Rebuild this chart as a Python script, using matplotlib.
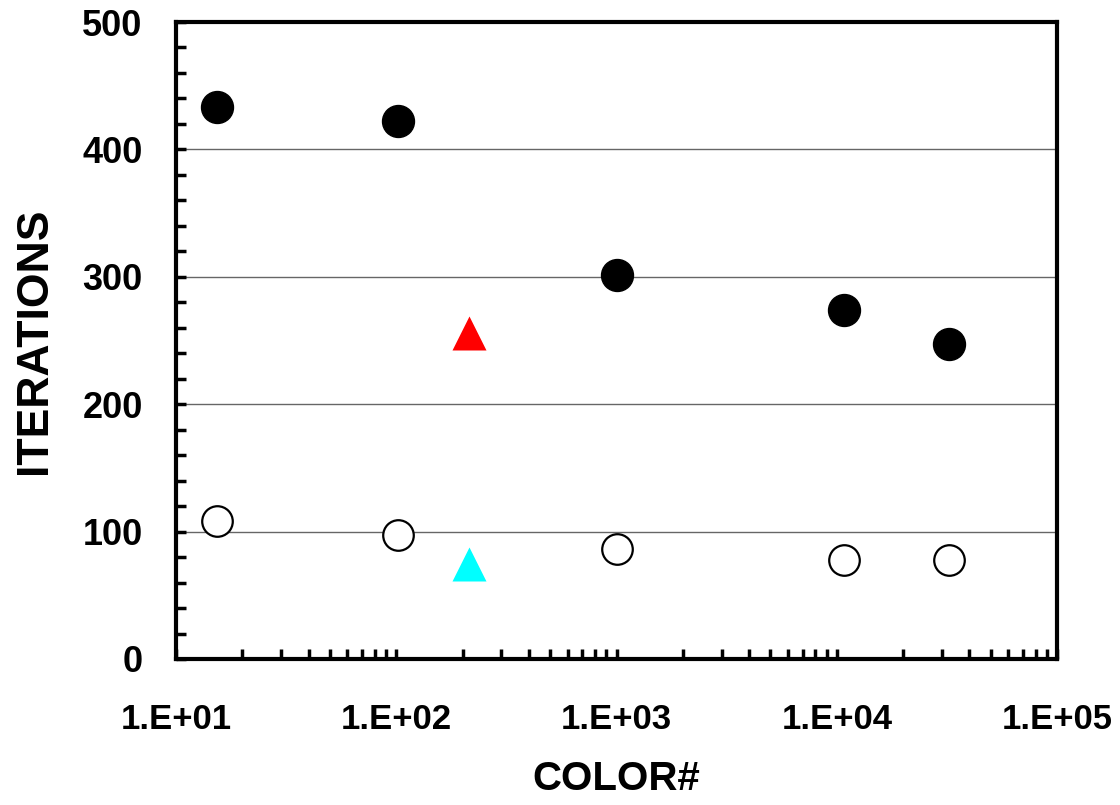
import matplotlib
matplotlib.use("Agg")
import matplotlib.pyplot as plt
from matplotlib.ticker import FixedLocator, LogLocator, NullFormatter, FuncFormatter

plt.rcParams['font.family'] = ['Liberation Sans', 'DejaVu Sans']
plt.rcParams['font.weight'] = 'bold'

# values
colors_x = [15.4, 102, 1000, 10800, 32200]
iter_filled = [433, 422, 301.5, 274, 247]
iter_open = [108, 97.5, 86.5, 77.5, 77.5]

tri_x = [215]
tri_red = [255.5]
tri_cyan = [74.3]

y_ticks = [0, 100, 200, 300, 400, 500]
x_ticks = [1e1, 1e2, 1e3, 1e4, 1e5]
x_ticklabels = ['1.E+01', '1.E+02', '1.E+03', '1.E+04', '1.E+05']

fig = plt.figure(figsize=(11.2, 8.05), dpi=100)
ax = fig.add_axes([176/1120, 1-659/805, 881/1120, 637/805])

ax.set_xscale('log')
ax.set_xlim(1e1, 1e5)
ax.set_ylim(0, 500)

for y in y_ticks[1:-1]:
    ax.axhline(y, color='#666666', lw=1.0, zorder=1)

ax.plot(colors_x, iter_filled, 'o', color='black', ms=23, zorder=3, clip_on=False)
ax.plot(colors_x, iter_open, 'o', mfc='white', mec='black', mew=1.6, ms=22, zorder=3)
ax.plot(tri_x, tri_red, '^', color='red', ms=25, mec='none', zorder=3)
ax.plot(tri_x, tri_cyan, '^', color='cyan', ms=25, mec='none', zorder=3)

ax.set_yticks(y_ticks)
ax.yaxis.set_minor_locator(FixedLocator([v for v in range(0, 501, 20) if v % 100]))
ax.xaxis.set_major_locator(FixedLocator(x_ticks))
ax.xaxis.set_major_formatter(FuncFormatter(lambda v, p: x_ticklabels[x_ticks.index(v)] if v in x_ticks else ''))
ax.xaxis.set_minor_locator(LogLocator(base=10, subs=range(2, 10)))
ax.xaxis.set_minor_formatter(NullFormatter())

ax.tick_params(which='both', direction='in', length=7, width=2.5, top=False, right=False)
ax.tick_params(axis='x', which='major', labelsize=25, pad=32)
ax.tick_params(axis='y', which='major', labelsize=26, pad=24)

for s in ax.spines.values():
    s.set_linewidth(3)

fig.text(35/1120, 1-340.5/805, 'ITERATIONS', rotation=90, ha='center', va='center',
         fontsize=32, fontweight='bold')
fig.text(616/1120, 1-760/805, 'COLOR#', ha='center', va='top', fontsize=29, fontweight='bold')

fig.savefig('out.png', dpi=100)
